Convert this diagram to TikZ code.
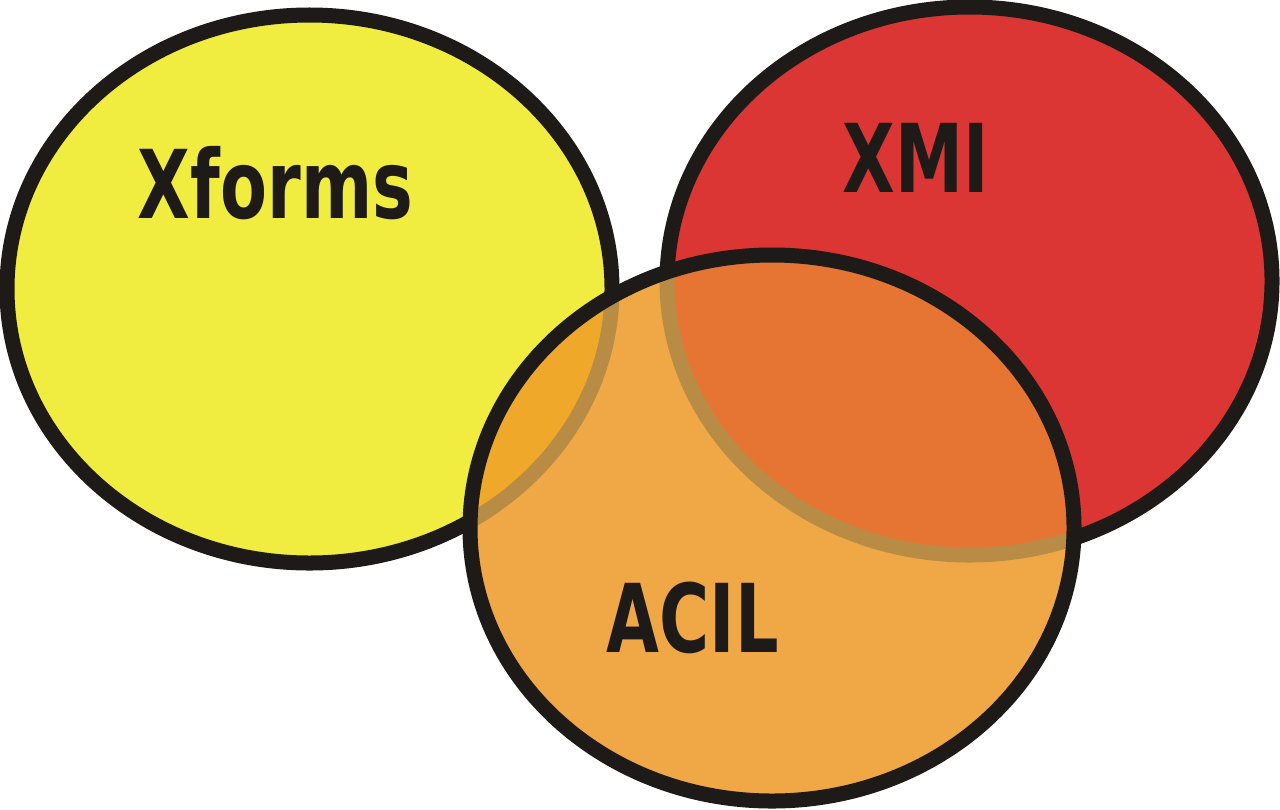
\documentclass[tikz,border=0pt]{standalone}
\usepackage{fontspec}
\usepackage{xcolor}
\usepackage{tikz}
\newfontfamily\vennfont[FakeStretch=0.72]{DejaVu Sans}
\definecolor{inkblack}{HTML}{1E1A18}
\definecolor{xfyellow}{HTML}{F1EC40}
\definecolor{xmired}{HTML}{DB3633}
\definecolor{acilorange}{HTML}{F0A846}
\definecolor{acilxf}{HTML}{F0A82A}
\definecolor{acilxmi}{HTML}{E67534}
\definecolor{ringtan}{HTML}{B98C45}

\begin{document}
\begin{tikzpicture}[
    x=0.01cm,y=-0.01cm,
    rim/.style={draw=inkblack,line width=0.15cm},
    ghost/.style={draw=ringtan,line width=0.15cm},
    setlabel/.style={font=\vennfont\bfseries\fontsize{27}{27}\selectfont,text=inkblack,anchor=base,inner sep=0pt}
  ]
    \useasboundingbox (0,0) rectangle (1280,809);
    % the two upper sets
    \path[rim,fill=xfyellow] (309.5,289) ellipse [x radius=302.5,y radius=274];
    \path[rim,fill=xmired] (969.5,281) ellipse [x radius=302.5,y radius=274];
    % lower set, lying over both
    \fill[acilorange] (772,528) ellipse [x radius=302,y radius=273];
    \begin{scope}
      \clip (772,528) ellipse [x radius=302,y radius=273];
      \fill[acilxf] (309.5,289) ellipse [x radius=302.5,y radius=274];
      \fill[acilxmi] (969.5,281) ellipse [x radius=302.5,y radius=274];
      \draw[ghost] (309.5,289) ellipse [x radius=302.5,y radius=274];
      \draw[ghost] (969.5,281) ellipse [x radius=302.5,y radius=274];
    \end{scope}
    \draw[rim] (772,528) ellipse [x radius=302,y radius=273];
    \node[setlabel] (xforms) at (275.5,218) {Xforms};
    \node[setlabel] (xmi) at (915.5,192) {XMI};
    \node[setlabel] (acil) at (692.5,652) {ACIL};
  \end{tikzpicture}
\end{document}
